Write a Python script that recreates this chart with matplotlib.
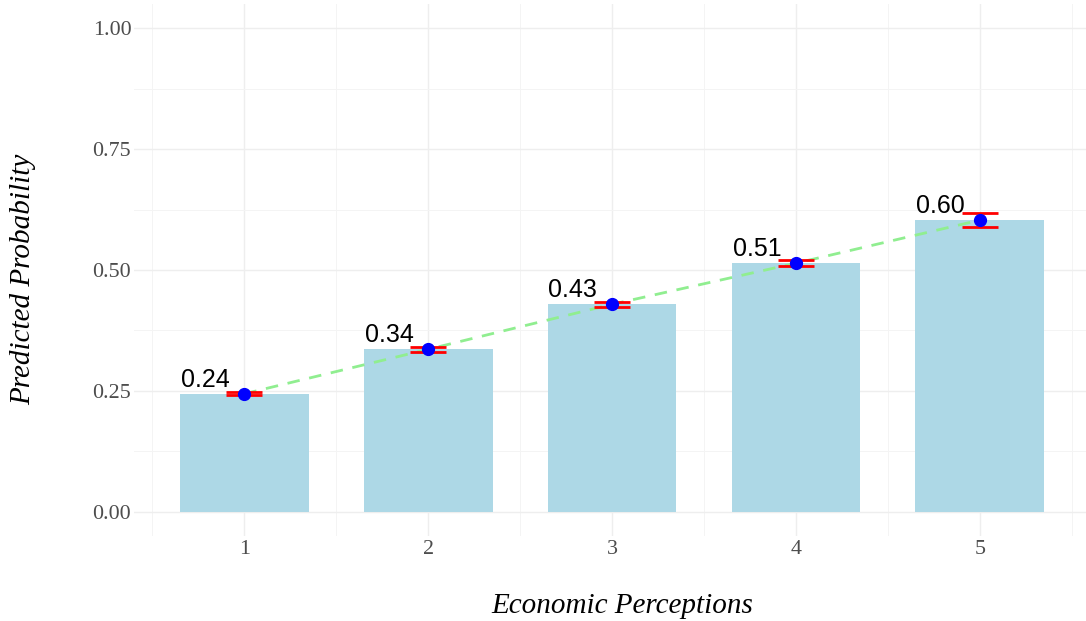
import numpy as np
import matplotlib.pyplot as plt

# predicted probabilities by economic perception level
categories = [1, 2, 3, 4, 5]
probs = [0.244, 0.336, 0.429, 0.514, 0.603]
ci_low = [0.241, 0.331, 0.424, 0.508, 0.589]
ci_high = [0.247, 0.341, 0.434, 0.520, 0.618]
bar_labels = ["0.24", "0.34", "0.43", "0.51", "0.60"]
yticks = [0.0, 0.25, 0.5, 0.75, 1.0]
ytick_labels = ["0.00", "0.25", "0.50", "0.75", "1.00"]

serif = "Liberation Serif"

fig = plt.figure(figsize=(10.86, 6.21), dpi=100)
ax = fig.add_axes([0.1234, 0.1369, 0.8803, 0.8567])

x = np.array(categories)
p = np.array(probs)
lo = np.array(ci_low)
hi = np.array(ci_high)

ax.bar(x, p, width=0.7, color="#ADD8E6", zorder=2)
ax.plot(x, p, color="#90EE90", lw=2, linestyle=(0, (4.5, 3.5)), zorder=3)
ax.errorbar(x, p, yerr=[p - lo, hi - p], fmt="none", ecolor="red",
            elinewidth=2, capsize=13.2, capthick=2, zorder=4)
ax.plot(x, p, "o", color="blue", ms=8.5, zorder=5)

for xi, pi, lab in zip(x, p, bar_labels):
    ax.text(xi - 0.08, pi + 0.015, lab, ha="right", va="baseline",
            fontsize=18, family="Liberation Sans", color="black", zorder=6)

ax.set_xlim(0.4, 5.6)
ax.set_ylim(-0.05, 1.05)
ax.set_xticks(categories)
ax.set_xticklabels([str(c) for c in categories])
ax.set_xticks(np.arange(0.5, 6, 1.0), minor=True)
ax.set_yticks(yticks)
ax.set_yticklabels(ytick_labels)
ax.set_yticks(np.arange(0.125, 1.0, 0.25), minor=True)

ax.grid(True, which="major", color="#EEEEEE", lw=1.0, zorder=0)
ax.grid(True, which="minor", color="#F4F4F4", lw=0.7, zorder=0)
ax.set_axisbelow(True)
ax.tick_params(which="both", length=0)
ax.tick_params(axis="x", pad=3)
ax.tick_params(axis="y", pad=2)
for lab in ax.get_xticklabels() + ax.get_yticklabels():
    lab.set_family(serif)
    lab.set_fontsize(15.8)
    lab.set_color("#4D4D4D")
for s in ax.spines.values():
    s.set_visible(False)

fig.text(622 / 1086, 1 - 613 / 621, "Economic Perceptions", ha="center",
         va="baseline", fontsize=21, family=serif, style="italic")
fig.text(23 / 1086, 1 - 279 / 621, "Predicted Probability", ha="center",
         va="center", rotation=90, fontsize=21, family=serif, style="italic")

plt.savefig("out.png", dpi=100)
